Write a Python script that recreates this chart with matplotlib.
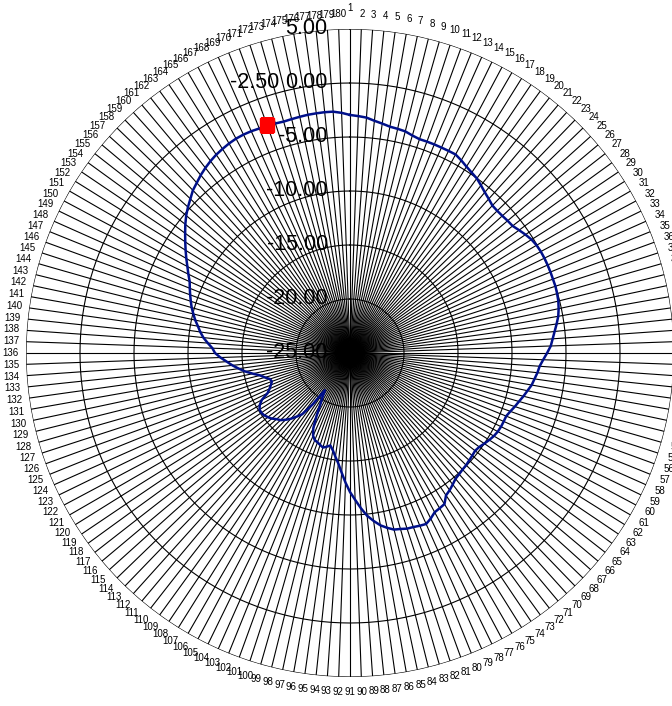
import numpy as np
import matplotlib
matplotlib.use("Agg")
import matplotlib.pyplot as plt

# %% Data

categories = [str(i) for i in range(1, 181)]

series_values = [
    -2.96, -3.05, -3.15, -3.38, -3.55, -3.72, -3.78, -3.85, -4.05, -4.18,
    -4.17, -4.17, -4.18, -4.18, -4.18, -4.40, -4.65, -4.85, -5.02, -5.30,
    -5.58, -5.80, -6.02, -6.05, -6.02, -5.95, -5.89, -5.65, -5.40, -5.18,
    -5.05, -4.99, -4.97, -4.97, -4.98, -5.00, -5.00, -5.05, -5.12, -5.25,
    -5.42, -5.68, -5.95, -6.20, -6.40, -6.75, -7.10, -7.40, -7.55, -7.75,
    -7.92, -8.20, -8.45, -8.72, -8.95, -9.20, -9.40, -9.42, -9.44, -9.50,
    -9.62, -9.80, -10.00, -10.20, -10.30, -10.22, -10.15, -10.05, -10.00, -9.90,
    -9.80, -9.55, -9.30, -9.10, -8.50, -8.40, -8.30, -7.95, -7.67, -7.75,
    -7.85, -7.90, -8.05, -8.15, -8.45, -8.80, -9.30, -9.85, -10.60, -11.40,
    -12.13, -13.00, -13.90, -14.70, -15.30, -15.85, -16.25, -16.05, -15.90, -16.05,
    -16.20, -16.30, -16.60, -17.25, -18.40, -19.50, -20.20, -20.84, -19.10, -17.80,
    -17.30, -16.80, -16.40, -16.05, -15.85, -15.55, -15.35, -15.18, -15.10, -15.12,
    -15.35, -15.75, -16.50, -16.85, -17.10, -17.30, -17.20, -16.80, -16.42, -15.80,
    -15.15, -14.60, -14.05, -13.55, -13.00, -12.50, -12.25, -11.80, -11.35, -11.00,
    -10.70, -10.35, -10.05, -9.75, -9.50, -9.25, -9.00, -8.75, -8.35, -7.95,
    -7.50, -7.05, -6.60, -6.13, -5.65, -5.20, -4.81, -4.45, -4.06, -3.80,
    -3.50, -3.25, -3.03, -2.85, -2.72, -2.60, -2.52, -2.50, -2.52, -2.58,
    -2.50, -2.65, -2.71, -2.68, -2.64, -2.60, -2.59, -2.58, -2.60, -2.75,
]

ring_levels = [-25, -20, -15, -10, -5, 0, 5]
ring_labels = ["-25.00", "-20.00", "-15.00", "-10.00", "-5.00", "0.00", "5.00"]

# highlighted point
marked_index = 170
marked_label = "-2.50"

r_min, r_max = -25, 5

# %% Figure

fig = plt.figure(figsize=(6.72, 7.06), dpi=100)
fig.patch.set_facecolor("white")
ax = fig.add_axes([26 / 672, 29 / 706, 648 / 672, 648 / 706], projection="polar")
ax.set_theta_zero_location("N")
ax.set_theta_direction(-1)
ax.set_ylim(r_min, r_max)
ax.grid(False)
ax.set_xticks([])
ax.set_yticks([])
ax.spines["polar"].set_visible(False)
ax.patch.set_alpha(0)

n = len(categories)
theta = np.deg2rad(np.arange(n) * 360.0 / n)
theta_closed = np.append(theta, theta[0])

# spokes
ax.vlines(theta, r_min, r_max, color="black", lw=0.8, zorder=1)

# polygon rings
for level in ring_levels[1:]:
    ax.plot(theta_closed, [level] * (n + 1), color="black", lw=0.8, zorder=1)

# ring value labels along the top spoke
for level, lab in zip(ring_levels, ring_labels):
    ax.annotate(lab, xy=(0, level), xytext=(-16, 0), textcoords="offset points",
                ha="right", va="center", fontsize=15.5, family="Liberation Sans",
                color="black", zorder=5, annotation_clip=False)

# category labels round the outside, first one sits a bit further out
for i, (t, lab) in enumerate(zip(theta, categories)):
    off = 15 if i == 0 else 11
    ax.annotate(lab, xy=(t, r_max), xytext=(off * np.sin(t), off * np.cos(t)),
                textcoords="offset points", ha="center", va="center",
                fontsize=7, family=["Liberation Sans Narrow", "Liberation Sans"],
                color="black", annotation_clip=False)

# series line
vals_closed = np.append(series_values, series_values[0])
ax.plot(theta_closed, vals_closed, color="#00108a", lw=1.8, zorder=3)

# highlighted point and its value
ax.plot(theta[marked_index], series_values[marked_index], marker="s",
        markersize=10, color="#ff0000", zorder=4)
ax.annotate(marked_label, xy=(theta[marked_index], series_values[marked_index]),
            xytext=(9, 30), textcoords="offset points", ha="right", va="center",
            fontsize=15.5, family="Liberation Sans", color="black", zorder=5)

fig.savefig("out.png", dpi=100)
